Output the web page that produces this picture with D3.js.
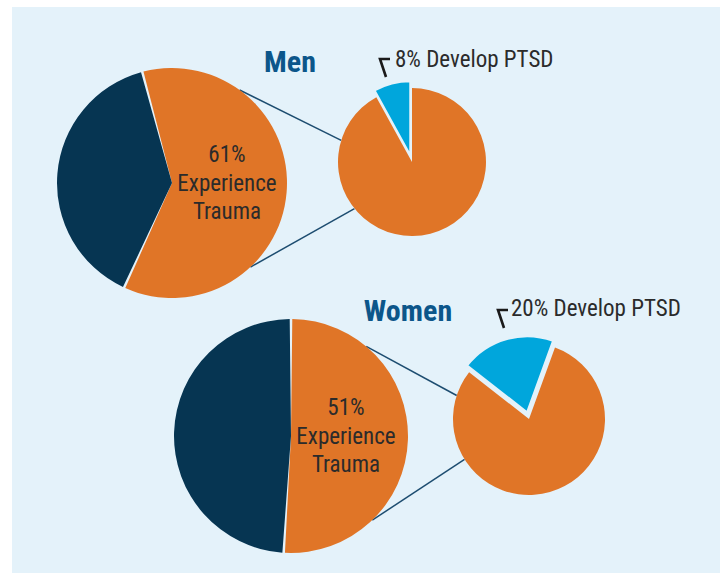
<!DOCTYPE html>
<meta charset="utf-8">
<script src="https://d3js.org/d3.v7.min.js"></script>
<style>
  body { margin: 0; background: #fff; }
  text { font-family: "Liberation Sans Narrow", "Arial Narrow", "Roboto Condensed", sans-serif; }
</style>
<div id="chart"></div>
<script>

// data
var groups = ["Men", "Women"]
var traumaPct = [61, 51]
var ptsdPct = [8, 20]
var traumaLabel = ["Experience", "Trauma"]
var ptsdLabel = "Develop PTSD"

var colors = {navy: "#063552", orange: "#e07527", blue: "#00a6dc", title: "#0c568a", text: "#2b2b2b"}

// layout of each group (big pie, small pie, connectors, titles); rot = start angle in degrees
var layout = [
  {big: {cx: 172, cy: 183, r: 115, rot: -15}, small: {cx: 412, cy: 162, r: 74, rot: 0},
   conn: [[36, 287], [137, 231]], title: [290, 72], label: [395, 67], tick: [380, 59]},
  {big: {cx: 291, cy: 436, r: 117, rot: 0}, small: {cx: 529, cy: 419, r: 76, rot: 20},
   conn: [[40, 288], [136, 238]], title: [408, 321], label: [511, 316], tick: [498, 310]}
]

var width = 720, height = 573

var svg = d3.select("#chart").append("svg")
  .attr("width", width)
  .attr("height", height)

// background panel
svg.append("rect")
  .attr("x", 12).attr("y", 7)
  .attr("width", width - 12).attr("height", height - 7)
  .attr("fill", "#e4f2fa")

var toRad = Math.PI / 180
function pt(c, deg) {
  return [c.cx + c.r * Math.sin(deg * toRad), c.cy - c.r * Math.cos(deg * toRad)]
}

groups.forEach(function(name, i) {
  var L = layout[i]
  var g = svg.append("g")

  // connector lines (drawn first, under the pies)
  L.conn.forEach(function(a) {
    var p1 = pt(L.big, a[0]), p2 = pt(L.small, a[1])
    g.append("line")
      .attr("x1", p1[0]).attr("y1", p1[1])
      .attr("x2", p2[0]).attr("y2", p2[1])
      .attr("stroke", "#1d4d70")
      .attr("stroke-width", 1.5)
  })

  // big pie: trauma vs no trauma
  var b0 = L.big.rot * toRad
  var bigPie = d3.pie().sort(null)
    .startAngle(b0).endAngle(b0 + 2 * Math.PI)
  var bigArc = d3.arc().innerRadius(0).outerRadius(L.big.r)
    .padAngle(0.022).padRadius(L.big.r)
  var bigData = bigPie([traumaPct[i], 100 - traumaPct[i]])
  g.append("g")
    .attr("transform", "translate(" + L.big.cx + "," + L.big.cy + ")")
    .selectAll("path")
    .data(bigData)
    .enter().append("path")
      .attr("d", bigArc)
      .attr("fill", function(d, j) { return j == 0 ? colors.orange : colors.navy })

  // text in the trauma slice
  var lines = [traumaPct[i] + "%"].concat(traumaLabel)
  g.append("g").selectAll("text")
    .data(lines)
    .enter().append("text")
      .attr("x", L.big.cx + 55)
      .attr("y", function(d, j) { return L.big.cy - 21 + j * 28.7 })
      .attr("text-anchor", "middle")
      .attr("font-size", 23)
      .attr("fill", colors.text)
      .text(function(d) { return d })

  // small pie: PTSD share, blue slice exploded
  var p = ptsdPct[i]
  var s0 = L.small.rot * toRad - p / 100 * 2 * Math.PI
  var smallPie = d3.pie().sort(null)
    .startAngle(s0).endAngle(s0 + 2 * Math.PI)
  var smallArc = d3.arc().innerRadius(0).outerRadius(L.small.r)
  var smallData = smallPie([p, 100 - p])
  var sg = g.append("g")
    .attr("transform", "translate(" + L.small.cx + "," + L.small.cy + ")")
  sg.selectAll("path")
    .data(smallData)
    .enter().append("path")
      .attr("d", smallArc)
      .attr("transform", function(d, j) {
        if (j != 0) return null
        var mid = (d.startAngle + d.endAngle) / 2, off = 7
        return "translate(" + off * Math.sin(mid) + "," + (-off * Math.cos(mid)) + ")"
      })
      .attr("fill", function(d, j) { return j == 0 ? colors.blue : colors.orange })
      .attr("stroke", function(d, j) { return j == 0 ? "#e4f2fa" : "none" })
      .attr("stroke-width", 2)

  // title
  g.append("text")
    .attr("x", L.title[0]).attr("y", L.title[1])
    .attr("text-anchor", "middle")
    .attr("font-size", 30)
    .attr("font-weight", "bold")
    .attr("fill", colors.title)
    .text(name)

  // PTSD label with small bracket mark
  var t = L.tick
  g.append("path")
    .attr("d", "M" + (t[0] + 10) + "," + t[1] + "H" + t[0] + "L" + (t[0] + 6) + "," + (t[1] + 18))
    .attr("fill", "none")
    .attr("stroke", "#1a1a1a")
    .attr("stroke-width", 2.6)
  g.append("text")
    .attr("x", L.label[0]).attr("y", L.label[1])
    .attr("font-size", 23)
    .attr("fill", colors.text)
    .text(p + "% " + ptsdLabel)
})

</script>
